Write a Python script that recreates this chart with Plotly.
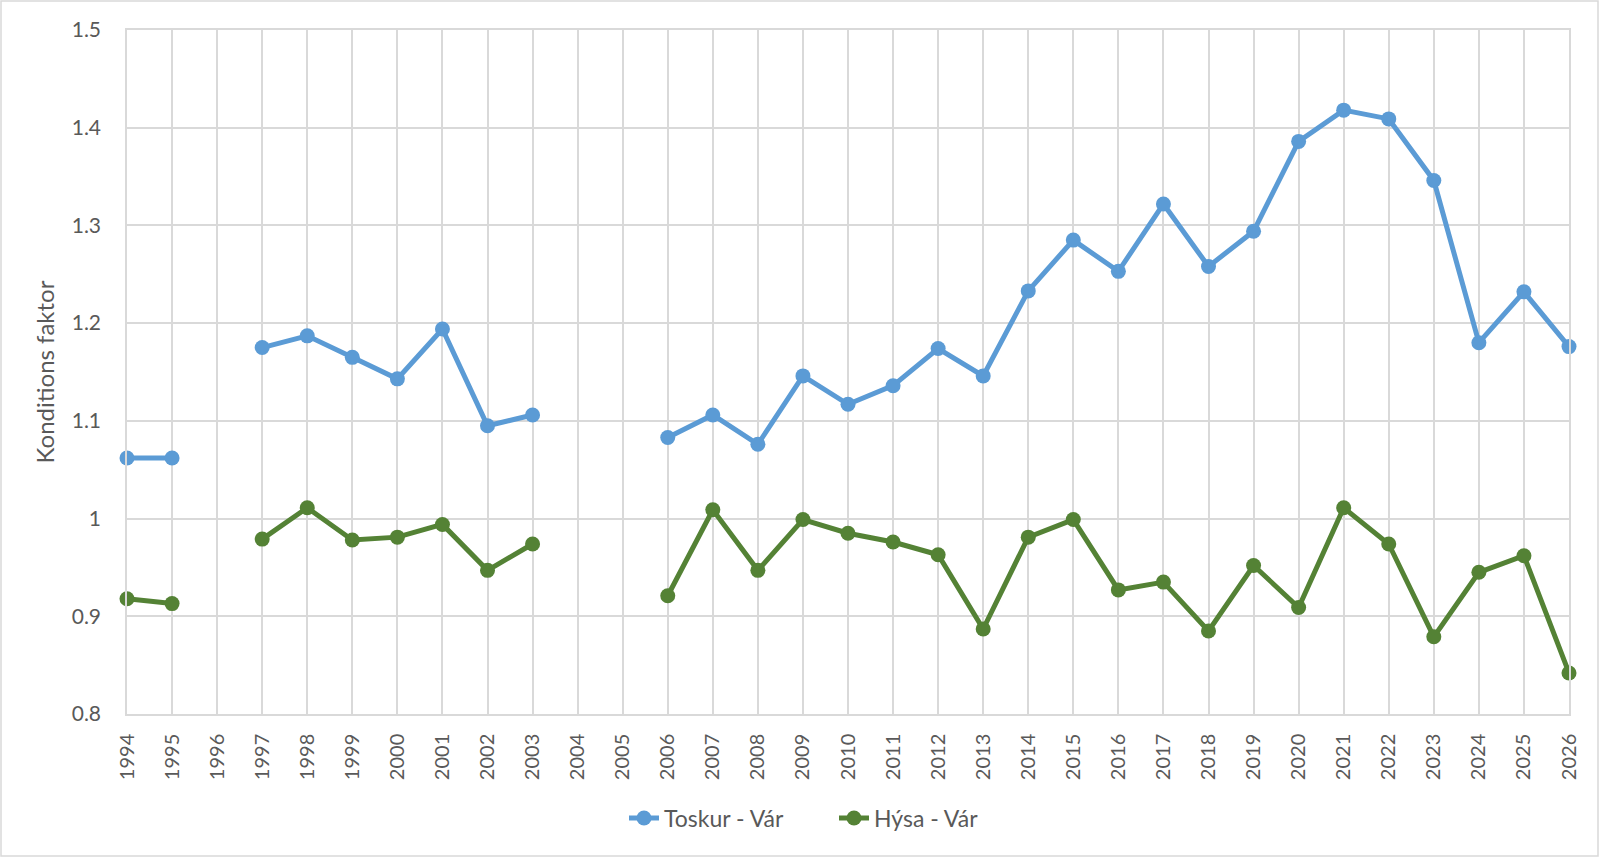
import plotly.graph_objects as go

years = list(range(1994, 2027))
toskur = [1.062, 1.062, None, 1.175, 1.187, 1.165, 1.143, 1.194, 1.095, 1.106,
          None, None, 1.083, 1.106, 1.076, 1.146, 1.117, 1.136, 1.174, 1.146,
          1.233, 1.285, 1.253, 1.322, 1.258, 1.294, 1.386, 1.418, 1.409, 1.346,
          1.180, 1.232, 1.176]
hysa = [0.918, 0.913, None, 0.979, 1.011, 0.978, 0.981, 0.994, 0.947, 0.974,
        None, None, 0.921, 1.009, 0.947, 0.999, 0.985, 0.976, 0.963, 0.887,
        0.981, 0.999, 0.927, 0.935, 0.885, 0.952, 0.909, 1.011, 0.974, 0.879,
        0.945, 0.962, 0.842]
series_names = ["Toskur - Vár", "Hýsa - Vár"]
colors = ["#5B9BD5", "#548235"]
y_ticks = [0.8, 0.9, 1.0, 1.1, 1.2, 1.3, 1.4, 1.5]
y_labels = ["0.8", "0.9", "1", "1.1", "1.2", "1.3", "1.4", "1.5"]

font_family = "Lato, Carlito, 'Liberation Sans', sans-serif"
grid = "#D9D9D9"
text_col = "#595959"

W, H = 1600, 858
L, R, T, B = 127, 31, 30, 144
pw, ph = W - L - R, H - T - B

fig = go.Figure()
for name, vals, col in zip(series_names, [toskur, hysa], colors):
    fig.add_trace(go.Scatter(
        x=years, y=vals, name=name, mode="lines+markers",
        line=dict(color=col, width=5),
        marker=dict(color=col, size=15),
        connectgaps=False, cliponaxis=False,
    ))

fig.update_layout(
    width=W, height=H,
    paper_bgcolor="white", plot_bgcolor="white",
    margin=dict(l=L, r=R, t=T, b=B, autoexpand=False),
    font=dict(family=font_family, color=text_col, size=20),
    showlegend=True,
    legend=dict(orientation="h", x=(834 - L) / pw, xanchor="center",
                y=-(818 - (H - B)) / ph, yanchor="middle",
                entrywidth=165, entrywidthmode="pixels",
                font=dict(size=23, color=text_col), traceorder="normal"),
    shapes=[dict(type="rect", xref="paper", yref="paper",
                 x0=-(L - 1) / pw, x1=1 + (R - 2) / pw,
                 y0=-(B - 2) / ph, y1=1 + (T - 1) / ph,
                 line=dict(color="#D9D9D9", width=1.5), fillcolor="rgba(0,0,0,0)",
                 layer="below")],
)
fig.update_xaxes(
    range=[1994, 2026], tickmode="array", tickvals=years,
    ticktext=[str(y) for y in years], tickangle=-90,
    showgrid=True, gridcolor=grid, gridwidth=1.5,
    showline=True, linecolor=grid, linewidth=1.5, mirror=True,
    zeroline=False, ticks="", ticklabelstandoff=10, automargin=False,
    tickfont=dict(size=20, color=text_col),
)
fig.update_yaxes(
    range=[0.8, 1.5], tickmode="array", tickvals=y_ticks, ticktext=y_labels,
    showgrid=True, gridcolor=grid, gridwidth=1.5,
    showline=True, linecolor=grid, linewidth=1.5, mirror=True,
    zeroline=False, ticks="", ticklabelstandoff=20, automargin=False,
    tickfont=dict(size=21, color=text_col),
    title=dict(text="Konditions faktor", font=dict(size=24, color=text_col), standoff=10),
)
fig.write_html("out.html", config={"displayModeBar": False},
               post_script="document.body.style.margin='0';document.body.style.padding='0';")
